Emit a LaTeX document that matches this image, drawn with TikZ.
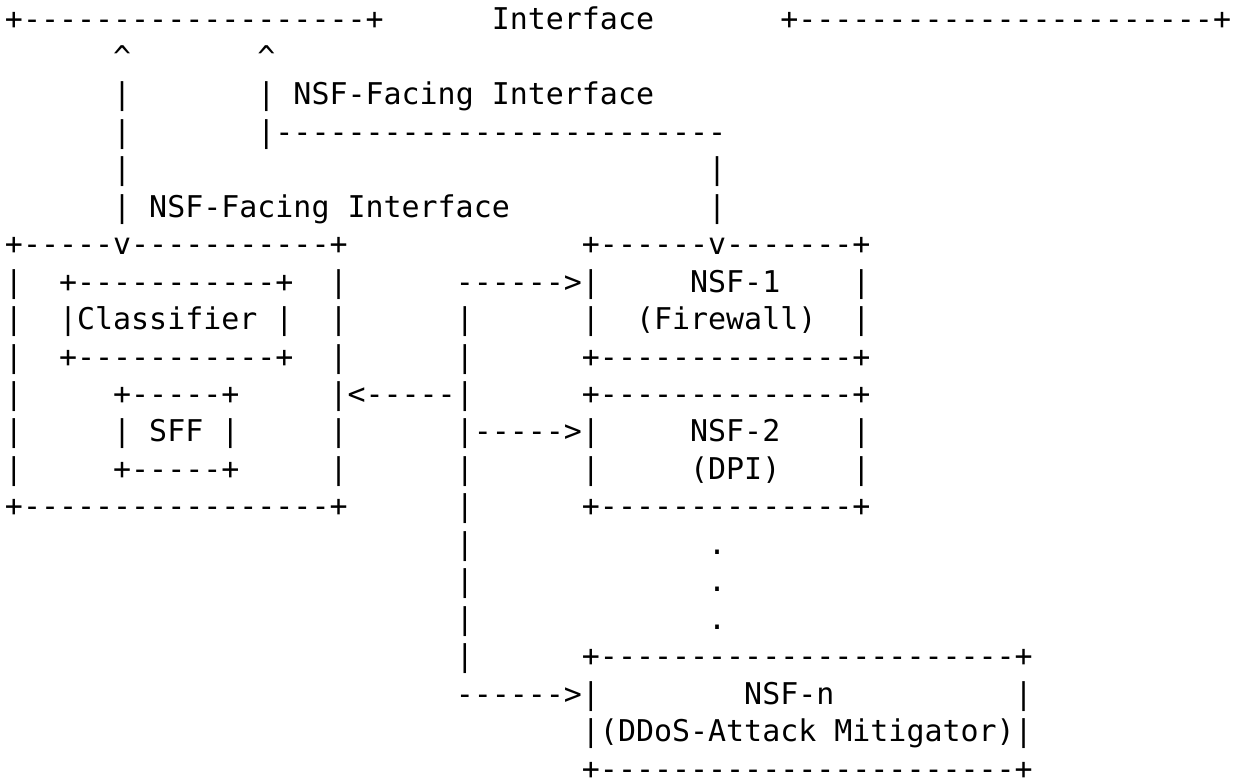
\documentclass[tikz,border=0pt]{standalone}
\usepackage{fontspec}
\setmonofont{DejaVu Sans Mono}
\newcommand\asciifont{\ttfamily\fontsize{29.95pt}{37.45pt}\selectfont}
\tikzset{
  ascii/.style={anchor=base west, inner sep=0pt, outer sep=0pt, font=\asciifont, text=black}
}
% \asc{col}{row}{text}: place a fragment of the ASCII figure on the character grid
\newcommand\asc[3]{\node[ascii] (t#1x#2) at ({5pt+#1*18.03pt},{-30pt-(#2-1)*37.45pt}) {#3};}
\begin{document}
\begin{tikzpicture}
\fill[white] (0pt,0pt) rectangle (1237pt,-783pt);
\useasboundingbox (0pt,0pt) rectangle (1237pt,-783pt);
% row 1
\asc{0}{1}{+-------------------+}
\asc{27}{1}{Interface}
\asc{43}{1}{+-----------------------+}
% row 2
\asc{6}{2}{\textasciicircum}
\asc{14}{2}{\textasciicircum}
% row 3
\asc{6}{3}{|}
\asc{14}{3}{| NSF-Facing Interface}
% row 4
\asc{6}{4}{|}
\asc{14}{4}{|-------------------------}
% row 5
\asc{6}{5}{|}
\asc{39}{5}{|}
% row 6
\asc{6}{6}{| NSF-Facing Interface}
\asc{39}{6}{|}
% row 7
\asc{0}{7}{+-----v-----------+}
\asc{32}{7}{+------v-------+}
% row 8
\asc{0}{8}{|}
\asc{3}{8}{+-----------+}
\asc{18}{8}{|}
\asc{25}{8}{------>|}
\asc{38}{8}{NSF-1}
\asc{47}{8}{|}
% row 9
\asc{0}{9}{|}
\asc{3}{9}{|Classifier |}
\asc{18}{9}{|}
\asc{25}{9}{|}
\asc{32}{9}{|}
\asc{35}{9}{(Firewall)}
\asc{47}{9}{|}
% row 10
\asc{0}{10}{|}
\asc{3}{10}{+-----------+}
\asc{18}{10}{|}
\asc{25}{10}{|}
\asc{32}{10}{+--------------+}
% row 11
\asc{0}{11}{|}
\asc{6}{11}{+-----+}
\asc{18}{11}{|<-----|}
\asc{32}{11}{+--------------+}
% row 12
\asc{0}{12}{|}
\asc{6}{12}{| SFF |}
\asc{18}{12}{|}
\asc{25}{12}{|----->|}
\asc{38}{12}{NSF-2}
\asc{47}{12}{|}
% row 13
\asc{0}{13}{|}
\asc{6}{13}{+-----+}
\asc{18}{13}{|}
\asc{25}{13}{|}
\asc{32}{13}{|}
\asc{38}{13}{(DPI)}
\asc{47}{13}{|}
% row 14
\asc{0}{14}{+-----------------+}
\asc{25}{14}{|}
\asc{32}{14}{+--------------+}
% rows 15-17
\asc{25}{15}{|}
\asc{39}{15}{.}
\asc{25}{16}{|}
\asc{39}{16}{.}
\asc{25}{17}{|}
\asc{39}{17}{.}
% row 18
\asc{25}{18}{|}
\asc{32}{18}{+-----------------------+}
% row 19
\asc{25}{19}{------>|}
\asc{41}{19}{NSF-n}
\asc{56}{19}{|}
% row 20
\asc{32}{20}{|(DDoS-Attack Mitigator)|}
% row 21
\asc{32}{21}{+-----------------------+}
\end{tikzpicture}
\end{document}
